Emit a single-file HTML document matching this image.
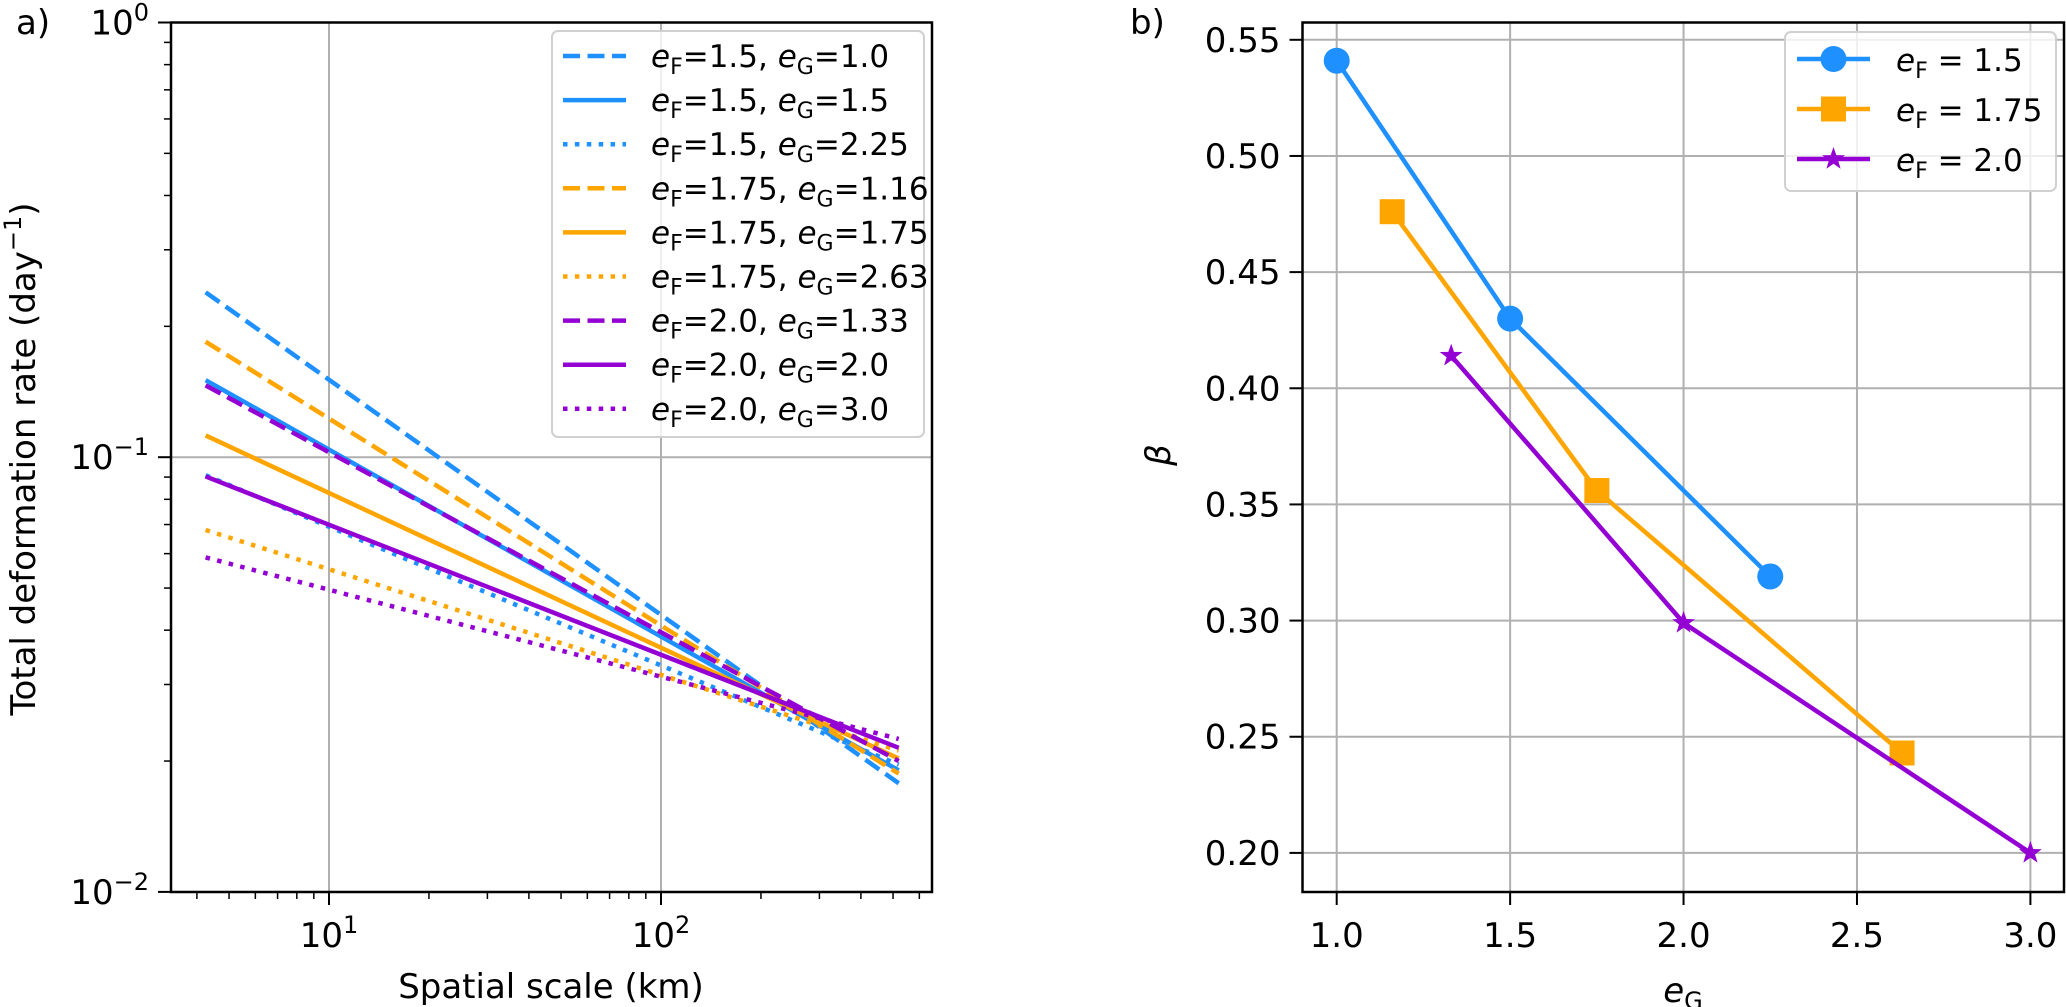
<!DOCTYPE html>
<html><head><meta charset="utf-8"><style>
html,body{margin:0;padding:0;background:#fff;}
svg{display:block;font-family:"DejaVu Sans","Liberation Sans",sans-serif;}
</style></head><body>
<svg id="fig" width="2066" height="1007" viewBox="0 0 2066 1007" xmlns="http://www.w3.org/2000/svg"></svg>
<script>
// ---- Panel a data ----
const seriesLabelsF = ["1.5","1.5","1.5","1.75","1.75","1.75","2.0","2.0","2.0"];
const seriesLabelsG = ["1.0","1.5","2.25","1.16","1.75","2.63","1.33","2.0","3.0"];
const startRates = [0.2395,0.1504,0.0909,0.1844,0.1122,0.0680,0.1463,0.0903,0.0588];
const slopes = [0.541,0.430,0.319,0.476,0.356,0.243,0.414,0.299,0.200];
const scaleRange = [4.25,520];
const yTicksA = [1e-2,1e-1,1e0];
const yTickExpA = ["\u22122","\u22121","0"];
const xTicksA = [10,100];
const xTickExpA = ["1","2"];
// ---- Panel b data ----
const eG_15 = [1.0,1.5,2.25];
const beta_15 = [0.541,0.430,0.319];
const eG_175 = [1.16,1.75,2.63];
const beta_175 = [0.476,0.356,0.243];
const eG_20 = [1.33,2.0,3.0];
const beta_20 = [0.414,0.299,0.200];
const xTicksB = [1.0,1.5,2.0,2.5,3.0];
const yTicksB = [0.20,0.25,0.30,0.35,0.40,0.45,0.50,0.55];

const NS="http://www.w3.org/2000/svg";
const svg=document.getElementById('fig');
function mk(tag,attrs,parent){const e=document.createElementNS(NS,tag);for(const k in attrs)e.setAttribute(k,attrs[k]);(parent||svg).appendChild(e);return e;}
const COL={b:"#1e90ff",o:"#ffa500",p:"#9400d3"};
const colors=[COL.b,COL.b,COL.b,COL.o,COL.o,COL.o,COL.p,COL.p,COL.p];
const styles=["dash","solid","dot","dash","solid","dot","dash","solid","dot"];
const LW=4.5;
function dashFor(s){return s==="dash"?"17,7.5":s==="dot"?"4.5,7.4":"none";}

// ---- Panel a axes ----
const A={l:171,r:932,t:22.5,b:892};
const xA=v=>329+(Math.log10(v)-1)*332;
const yA=v=>22.5+(0-Math.log10(v))*434.7;
const gA=mk('g',{});


// grid
xTicksA.forEach(v=>{const l=mk('line',{x1:xA(v),x2:xA(v),y1:A.t,y2:A.b,stroke:"#b0b0b0","stroke-width":2},gA);});
yTicksA.forEach(v=>{const l=mk('line',{x1:A.l,x2:A.r,y1:yA(v),y2:yA(v),stroke:"#b0b0b0","stroke-width":2},gA);});
// lines
const clip=mk('clipPath',{id:'clipA'});mk('rect',{x:A.l,y:A.t,width:A.r-A.l,height:A.b-A.t},clip);
startRates.forEach((v0,i)=>{
  const x0=scaleRange[0],x1=scaleRange[1];
  const v1=v0*Math.pow(x1/x0,-slopes[i]);
  const l=mk('line',{x1:xA(x0),y1:yA(v0),x2:xA(x1),y2:yA(v1),stroke:colors[i],"stroke-width":LW,"stroke-dasharray":dashFor(styles[i]),"clip-path":"url(#clipA)"},gA);
  
  
});
// spines
const spA=mk('rect',{x:A.l,y:A.t,width:A.r-A.l,height:A.b-A.t,fill:"none",stroke:"#000","stroke-width":2.5},gA);

// ticks
xTicksA.forEach((v,i)=>{
  mk('line',{x1:xA(v),x2:xA(v),y1:A.b,y2:A.b+13,stroke:"#000","stroke-width":2},gA);
  const t=mk('text',{x:xA(v),y:947,"font-size":34,"text-anchor":"middle"},gA);
  
  t.innerHTML='10<tspan dy="-14" font-size="24">'+xTickExpA[i]+'</tspan>';
});
[4,5,6,7,8,9,20,30,40,50,60,70,80,90,200,300,400,500,600].forEach(v=>mk('line',{x1:xA(v),x2:xA(v),y1:A.b,y2:A.b+7,stroke:"#000","stroke-width":1.5},gA));
yTicksA.forEach((v,i)=>{
  mk('line',{x1:A.l-13,x2:A.l,y1:yA(v),y2:yA(v),stroke:"#000","stroke-width":2},gA);
  const t=mk('text',{x:A.l-22,y:yA(v)+12,"font-size":34,"text-anchor":"end"},gA);
  
  t.innerHTML='10<tspan dy="-14" font-size="24">'+yTickExpA[i]+'</tspan>';
});
[0.02,0.03,0.04,0.05,0.06,0.07,0.08,0.09,0.2,0.3,0.4,0.5,0.6,0.7,0.8,0.9].forEach(v=>mk('line',{x1:A.l-7,x2:A.l,y1:yA(v),y2:yA(v),stroke:"#000","stroke-width":1.5},gA));
// labels
let t=mk('text',{x:551,y:998,"font-size":34,"text-anchor":"middle"},gA);t.textContent="Spatial scale (km)";

t=mk('text',{x:0,y:0,"font-size":34,"text-anchor":"middle",transform:"translate(35,459) rotate(-90)"},gA);
t.innerHTML='Total deformation rate (day<tspan dy="-14" font-size="24">\u22121</tspan><tspan dy="14">)</tspan>';

t=mk('text',{x:16,y:34,"font-size":34},gA);t.textContent="a)";

// legend a
const lgA=mk('g',{},gA);
mk('rect',{x:552,y:31,width:372,height:406,rx:6,fill:"#fff","fill-opacity":0.8,stroke:"#d0d0d0","stroke-width":2},lgA);
startRates.forEach((v,i)=>{
  const y=56+i*44.1;
  const h=mk('line',{x1:563,x2:626,y1:y,y2:y,stroke:colors[i],"stroke-width":LW,"stroke-dasharray":dashFor(styles[i])},lgA);
  
  const tx=mk('text',{x:651,y:y+11,"font-size":31},lgA);
  
  tx.innerHTML='<tspan font-style="italic">e</tspan><tspan font-size="22" dy="7">F</tspan><tspan dy="-7">=' + seriesLabelsF[i] + ', </tspan><tspan font-style="italic">e</tspan><tspan font-size="22" dy="7">G</tspan><tspan dy="-7">=' + seriesLabelsG[i] + '</tspan>';
});

// ---- Panel b ----
const B={l:1302.5,r:2064,t:22.5,b:892};
const xB=v=>1336.7+(v-1)*(2030.4-1336.7)/2;
const yB=v=>39.8+(0.55-v)*(852.9-39.8)/0.35;
const gB=mk('g',{});
xTicksB.forEach(v=>{mk('line',{x1:xB(v),x2:xB(v),y1:B.t,y2:B.b,stroke:"#b0b0b0","stroke-width":2},gB);
  mk('line',{x1:xB(v),x2:xB(v),y1:B.b,y2:B.b+13,stroke:"#000","stroke-width":2},gB);
  const tx=mk('text',{x:xB(v),y:947,"font-size":34,"text-anchor":"middle"},gB);tx.textContent=v.toFixed(1);
  });
yTicksB.forEach(v=>{mk('line',{x1:B.l,x2:B.r,y1:yB(v),y2:yB(v),stroke:"#b0b0b0","stroke-width":2},gB);
  mk('line',{x1:B.l-13,x2:B.l,y1:yB(v),y2:yB(v),stroke:"#000","stroke-width":2},gB);
  const tx=mk('text',{x:B.l-22,y:yB(v)+12,"font-size":34,"text-anchor":"end"},gB);tx.textContent=v.toFixed(2);
  });
function star(cx,cy,r){let p=[];for(let k=0;k<10;k++){const a=-Math.PI/2+k*Math.PI/5;const rr=k%2?r*0.4:r;p.push((cx+rr*Math.cos(a)).toFixed(1)+','+(cy+rr*Math.sin(a)).toFixed(1));}return p.join(' ');}
function marker(kind,x,y,color,parent){
  let m;
  if(kind==='o')m=mk('circle',{cx:x,cy:y,r:13,fill:color},parent);
  else if(kind==='s')m=mk('rect',{x:x-12.5,y:y-12.5,width:25,height:25,fill:color},parent);
  else m=mk('polygon',{points:star(x,y,12),fill:color},parent);
  
}
const seriesB=[[eG_15,beta_15,COL.b,'o','1.5'],[eG_175,beta_175,COL.o,'s','1.75'],[eG_20,beta_20,COL.p,'*','2.0']];
seriesB.forEach(([xs,ys,c,k,lab])=>{
  const g=mk('g',{},gB);
  mk('polyline',{points:xs.map((x,i)=>xB(x)+','+yB(ys[i])).join(' '),fill:"none",stroke:c,"stroke-width":4.5},g);
  xs.forEach((x,i)=>marker(k,xB(x),yB(ys[i]),c,g));
});
const spB=mk('rect',{x:B.l,y:B.t,width:B.r-B.l,height:B.b-B.t,fill:"none",stroke:"#000","stroke-width":2.5},gB);

t=mk('text',{x:1683,y:1002,"font-size":34,"text-anchor":"middle"},gB);
t.innerHTML='<tspan font-style="italic">e</tspan><tspan font-size="24" dy="7">G</tspan>';

t=mk('text',{x:0,y:0,"font-size":34,"text-anchor":"middle","font-style":"italic",transform:"translate(1170,455) rotate(-90)"},gB);t.textContent="\u03b2";

t=mk('text',{x:1130,y:34,"font-size":34},gB);t.textContent="b)";

const lgB=mk('g',{},gB);
mk('rect',{x:1785,y:32,width:271,height:159,rx:6,fill:"#fff","fill-opacity":0.8,stroke:"#d0d0d0","stroke-width":2},lgB);
seriesB.forEach(([xs,ys,c,k,lab],i)=>{
  const y=59+i*50;
  mk('line',{x1:1797,x2:1870,y1:y,y2:y,stroke:c,"stroke-width":4.5},lgB);
  marker(k,1833.5,y,c,lgB);
  const tx=mk('text',{x:1896,y:y+12,"font-size":31},lgB);
  
  tx.innerHTML='<tspan font-style="italic">e</tspan><tspan font-size="22" dy="7">F</tspan><tspan dy="-7"> = '+lab+'</tspan>';
});
</script>
</body></html>
